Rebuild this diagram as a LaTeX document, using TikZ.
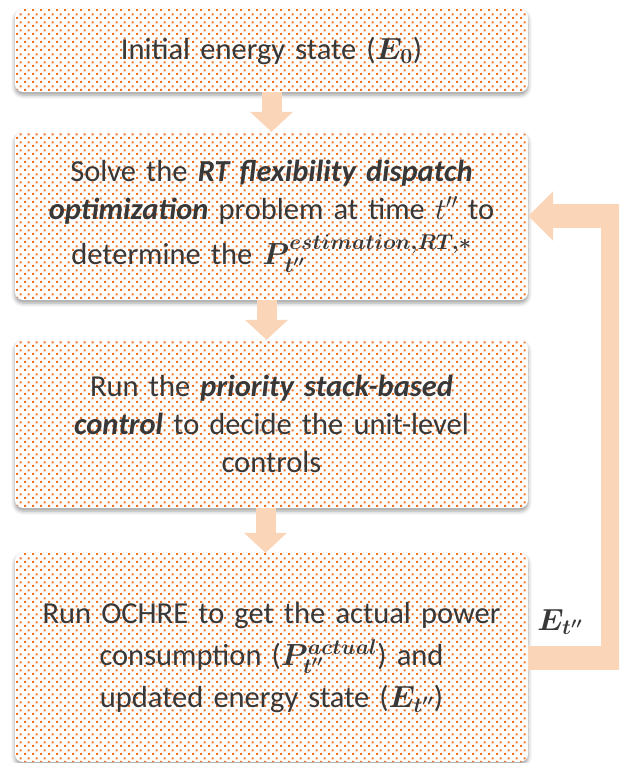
\RequirePackage{fix-cm}
\documentclass[tikz,border=0pt]{standalone}
\usepackage{amsmath}
\usepackage{bm}
\usepackage{fontspec}
\setmainfont{Carlito}
\usetikzlibrary{arrows.meta,patterns.meta,shadows.blur,calc}
\definecolor{dotc}{HTML}{EF7326}
\definecolor{arrc}{HTML}{FBD5B8}
\definecolor{txtc}{HTML}{383838}
\tikzdeclarepattern{
  name=odots,
  type=uncolored,
  bottom left={(0pt,0pt)},
  top right={(8pt,8pt)},
  tile size={(8pt,8pt)},
  code={
    \fill (0pt,0pt) rectangle (2.3pt,2.3pt);
    \fill (4pt,4pt) rectangle (6.3pt,6.3pt);
  }
}
\begin{document}
\begin{tikzpicture}[x=1pt,y=-1pt,
  box/.style={draw=none, fill=white, rounded corners=8pt,
    minimum width=513pt, text width=500pt, align=center, inner sep=0pt,
    text=txtc, font=\fontsize{30.5}{38}\selectfont,
    blur shadow={shadow xshift=0pt, shadow yshift=-3pt, shadow blur radius=4pt, shadow opacity=40},
    postaction={pattern=odots, pattern color=dotc}},
  downarr/.style={draw=arrc, line width=20pt, -{Triangle[width=42pt,length=20pt]}},
  backarr/.style={draw=arrc, line width=24pt, miter limit=10, -{Triangle[width=48pt,length=25pt]}},
  lbl/.style={text=txtc, font=\fontsize{30.5}{38}\selectfont, inner sep=0pt}]
\useasboundingbox (0,0) rectangle (619,763);
\clip (0,0) rectangle (619,763);

\node[box, minimum height=83pt] (b1) at (271.5,50.5) {Initial energy state ($\bm{E}_{\bm{0}}$)};
\node[box, minimum height=168pt] (b2) at (271.5,216) {Solve the \textbf{\textit{RT flexibility dispatch}}\\ \textbf{\textit{optimization}} problem at time $t''$ to\\[7pt] determine the $\bm{P}_{\bm{t''}}^{\bm{estimation,RT,*}}$};
\node[box, minimum height=168pt] (b3) at (271.5,424) {Run the \textbf{\textit{priority stack-based}}\\ \textbf{\textit{control}} to decide the unit-level\\ controls};
\node[box, minimum height=209pt] (b4) at (271.5,657.5) {Run OCHRE to get the actual power\\[4pt] consumption ($\bm{P}_{\bm{t''}}^{\bm{actual}}$) and\\[4pt] updated energy state ($\bm{E}_{\bm{t''}}$)};

\draw[downarr] (b1.south) -- (b2.north);
\draw[downarr] ([xshift=-5pt]b2.south) -- ([xshift=-5pt]b3.north);
\draw[downarr] ([xshift=-6pt]b3.south) -- ([xshift=-6pt]b4.north);

\coordinate (c1) at (613,657.5);
\coordinate (c2) at (613,216);
\draw[backarr] (b4.east) -- (c1) -- (c2) -- (b2.east);

\node[lbl] (et) at (560,622) {$\bm{E}_{\bm{t''}}$};
\end{tikzpicture}
\end{document}
